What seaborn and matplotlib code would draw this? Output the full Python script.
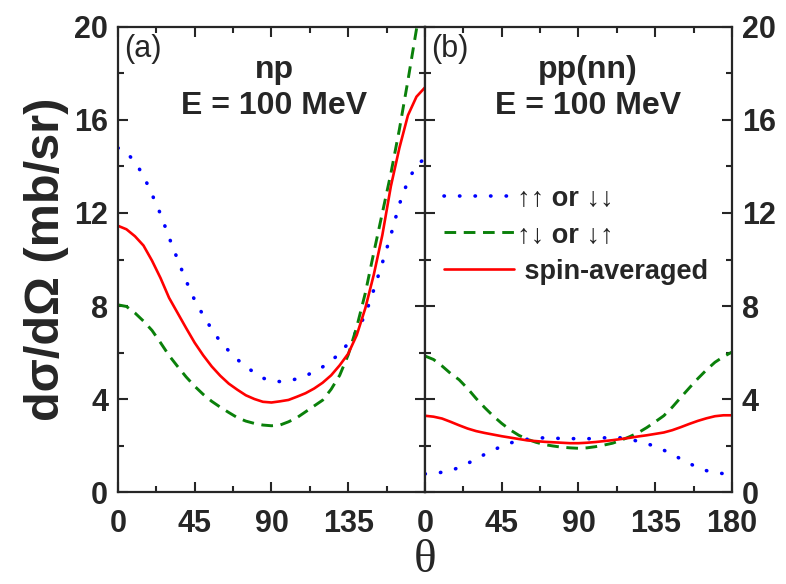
import matplotlib

matplotlib.use("Agg")
import matplotlib.pyplot as plt
import pandas as pd
import seaborn as sns
from matplotlib.ticker import MultipleLocator

# scattering angle grid (degrees)
theta = [0, 5, 10, 15, 20, 25, 30, 35, 40, 45, 50, 55, 60, 65, 70, 75, 80, 85, 90,
         95, 100, 105, 110, 115, 120, 125, 130, 135, 140, 145, 150, 155, 160, 165, 170, 175, 180]

# (a) np, E = 100 MeV
np_same = [14.8, 14.6, 14.2, 13.6, 12.8, 11.95, 10.95, 10.0, 9.08, 8.25, 7.6, 7.0, 6.47, 6.07, 5.7, 5.4, 5.13, 4.9, 4.78,
           4.75, 4.78, 4.87, 5.0, 5.17, 5.38, 5.65, 5.95, 6.4, 6.92, 7.62, 8.7, 9.85, 11.05, 12.38, 13.38, 14.05, 14.35]
np_opp = [8.05, 7.98, 7.7, 7.35, 6.95, 6.42, 5.87, 5.4, 4.95, 4.55, 4.2, 3.9, 3.65, 3.42, 3.2, 3.05, 2.95, 2.88, 2.85,
          2.88, 3.02, 3.2, 3.45, 3.7, 3.95, 4.42, 5.02, 5.9, 7.1, 8.55, 10.3, 12.0, 13.7, 15.6, 17.7, 19.9, 22.0]
np_avg = [11.45, 11.3, 11.0, 10.6, 9.95, 9.2, 8.35, 7.7, 7.05, 6.42, 5.88, 5.4, 5.0, 4.66, 4.4, 4.16, 4.0, 3.88, 3.85,
          3.9, 3.96, 4.1, 4.25, 4.45, 4.7, 5.02, 5.45, 5.95, 6.75, 7.9, 9.35, 11.05, 13.15, 14.8, 16.2, 17.0, 17.4]

# (b) pp(nn), E = 100 MeV
pp_same = [0.78, 0.8, 0.85, 0.93, 1.05, 1.23, 1.42, 1.62, 1.8, 1.97, 2.11, 2.2, 2.27, 2.32, 2.33, 2.32, 2.3, 2.3, 2.29,
           2.29, 2.31, 2.33, 2.34, 2.33, 2.27, 2.18, 2.09, 1.95, 1.8, 1.62, 1.42, 1.23, 1.05, 0.92, 0.84, 0.79, 0.76]
pp_opp = [5.85, 5.7, 5.42, 5.1, 4.83, 4.45, 4.02, 3.63, 3.27, 2.95, 2.67, 2.44, 2.27, 2.14, 2.04, 1.98, 1.93, 1.9, 1.88,
          1.9, 1.95, 2.02, 2.1, 2.23, 2.38, 2.55, 2.77, 3.02, 3.28, 3.65, 4.07, 4.48, 4.88, 5.25, 5.58, 5.82, 6.02]
pp_avg = [3.28, 3.24, 3.16, 3.02, 2.87, 2.73, 2.62, 2.54, 2.47, 2.4, 2.34, 2.28, 2.22, 2.19, 2.16, 2.14, 2.12, 2.1, 2.1,
          2.12, 2.15, 2.19, 2.23, 2.28, 2.33, 2.39, 2.44, 2.5, 2.56, 2.66, 2.79, 2.93, 3.06, 3.17, 3.26, 3.3, 3.3]

series_labels = ["\u2191\u2191 or \u2193\u2193", "\u2191\u2193 or \u2193\u2191", " spin-averaged"]
panel_tags = ["(a)", "(b)"]
panel_titles = ["np\nE = 100 MeV", "pp(nn)\nE = 100 MeV"]

sns.set_theme(style="ticks")
plt.rcParams["font.family"] = ["Liberation Sans", "DejaVu Sans"]
plt.rcParams["font.weight"] = "bold"

styles = [
    dict(color="#0000ff", linestyle=(0, (0.1, 4.2)), linewidth=2.6, dash_capstyle="round"),
    dict(color="#0a800a", linestyle=(0, (4, 2.6)), linewidth=2.1),
    dict(color="#ff0000", linestyle="-", linewidth=1.9),
]

fig = plt.figure(figsize=(7.86, 5.84), dpi=100)
ax_a = fig.add_axes([0.150, 0.1575, 0.3907, 0.7963])
ax_b = fig.add_axes([0.5407, 0.1575, 0.3906, 0.7963])

panels = [(ax_a, [np_same, np_opp, np_avg]), (ax_b, [pp_same, pp_opp, pp_avg])]
for i, (ax, curves) in enumerate(panels):
    for values, label, st in zip(curves, series_labels, styles):
        df = pd.DataFrame({"theta": theta, "xs": values})
        sns.lineplot(data=df, x="theta", y="xs", ax=ax, label=label, sort=False, **st)

    ax.set_xlim(0, 180)
    ax.set_ylim(0, 20)
    ax.xaxis.set_major_locator(MultipleLocator(45))
    ax.xaxis.set_minor_locator(MultipleLocator(22.5))
    ax.yaxis.set_major_locator(MultipleLocator(4))
    ax.yaxis.set_minor_locator(MultipleLocator(2))
    ax.tick_params(which="both", direction="in", top=True, right=True, left=True, bottom=True,
                   width=1.5, labelsize=22)
    ax.tick_params(axis="x", which="both", pad=12)
    ax.tick_params(axis="y", which="both", pad=7)
    ax.tick_params(which="major", length=7)
    ax.tick_params(which="minor", length=4)
    for sp in ax.spines.values():
        sp.set_linewidth(1.6)
    ax.set_xlabel("")
    ax.set_ylabel("")
    for lab in ax.get_xticklabels() + ax.get_yticklabels():
        lab.set_fontweight("bold")

    ax.text(0.02, 0.985, panel_tags[i], transform=ax.transAxes, ha="left", va="top",
            fontsize=22, fontweight="normal")
    ax.text(0.51 if i == 0 else 0.53, 0.94, panel_titles[i], transform=ax.transAxes,
            ha="center", va="top", fontsize=23, fontweight="bold", linespacing=1.25)

ax_a.set_xticks([0, 45, 90, 135])
ax_a.set_xticks([22.5, 67.5, 112.5, 157.5], minor=True)
ax_a.get_legend().remove()

ax_b.tick_params(which="both", labelleft=False, labelright=True)
for lab in ax_b.get_yticklabels():
    lab.set_fontweight("bold")
ax_b.legend(loc="center left", bbox_to_anchor=(0.0, 0.553), frameon=False, fontsize=19.5,
            handlelength=2.6, handletextpad=0.1, labelspacing=0.4, borderaxespad=0.3)

ax_a.set_ylabel("d\u03c3/d\u03a9 (mb/sr)", fontsize=35, fontweight="bold", labelpad=4)
fig.text(0.541, 0.004, "\u03b8", ha="center", va="bottom", fontsize=34,
         family=["Liberation Serif", "DejaVu Serif"], fontweight="normal")

fig.savefig("out.png", dpi=100)
plt.close(fig)
